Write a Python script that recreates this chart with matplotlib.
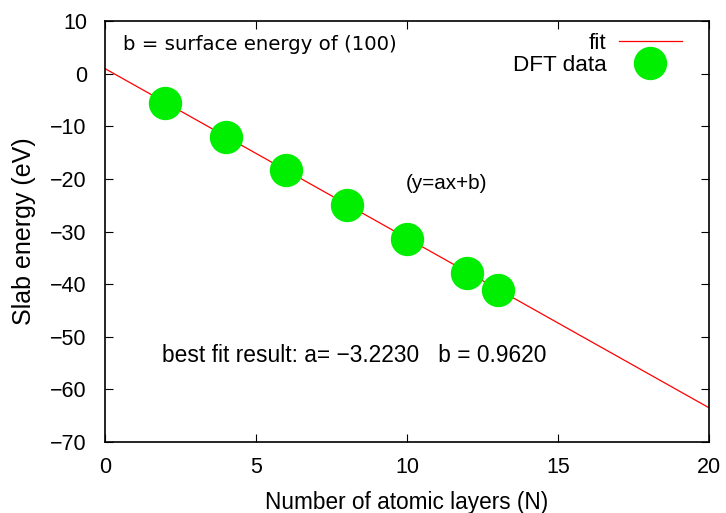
import numpy as np
import matplotlib
matplotlib.use("Agg")
from matplotlib import pyplot as plt

plt.rcParams['font.family'] = ['Liberation Sans', 'DejaVu Sans']

layers = [2, 4, 6, 8, 10, 12, 13]
energy = [-5.6, -12.0, -18.4, -24.9, -31.4, -37.8, -41.1]
fit_a = -3.2230
fit_b = 0.9620

fig = plt.figure(figsize=(7.26, 5.13), dpi=100)
ax = fig.add_axes([0.1446, 0.1384, 0.832, 0.8206])

xfit = np.array([0, 20])
ax.plot(xfit, fit_a * xfit + fit_b, color='red', lw=0.9, label='fit')
ax.plot(layers, energy, 'o', color='#00ee00', ms=23, mec='#00ee00', label='DFT data')

ax.set_xlim(0, 20)
ax.set_ylim(-70, 10)
ax.set_xticks([0, 5, 10, 15, 20])
ax.set_yticks(np.arange(-70, 11, 10))
ax.set_yticklabels([str(v).replace('-', '\u2212') for v in range(-70, 11, 10)])
ax.tick_params(direction='in', top=True, right=True, labelsize=15.5, length=6, width=0.8)
ax.tick_params(axis='x', pad=11)
ax.tick_params(axis='y', pad=13)
for s in ax.spines.values():
    s.set_linewidth(1.2)

ax.set_xlabel('Number of atomic layers (N)', fontsize=16.3, labelpad=9)
ax.set_ylabel('Slab energy (eV)', fontsize=18, labelpad=10)

ax.text(0.6, 5.6, 'b = surface energy of (100)', family='DejaVu Sans', fontsize=14.2, va='center')
ax.text(11.3, -20.8, '(y=ax+b)', fontsize=14.9, ha='center', va='center')
ax.text(1.9, -53.5, 'best fit result: a= \u22123.2230   b = 0.9620', fontsize=16.4, va='center')

leg = ax.legend(loc='upper right', bbox_to_anchor=(0.955, 0.972), frameon=False,
                markerfirst=False, fontsize=16.2, handlelength=2.8, handletextpad=0.55,
                borderpad=0, borderaxespad=0, labelspacing=0.05)

fig.savefig('out.png', dpi=100)
